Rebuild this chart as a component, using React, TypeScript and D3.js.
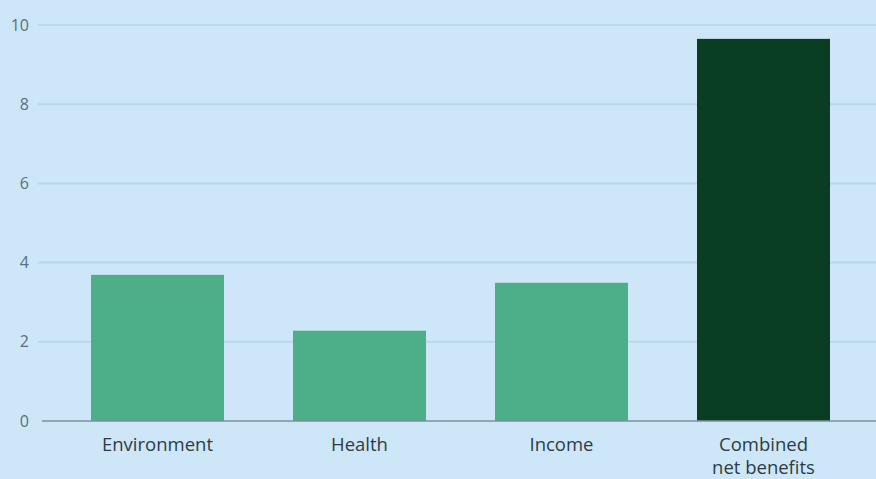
import React from "react";
import * as d3 from "d3";

const categories = ["Environment", "Health", "Income", "Combined net benefits"];
const values = [3.69, 2.28, 3.49, 9.65];
const yTicks = [0, 2, 4, 6, 8, 10];
const labelLines = [["Environment"], ["Health"], ["Income"], ["Combined", "net benefits"]];

const W = 876;
const H = 479;

export default function App() {
  const y = d3.scaleLinear().domain([0, 10]).range([421, 25]);
  const x = d3
    .scaleBand<string>()
    .domain(categories)
    .range([56.5, 864.5])
    .paddingInner(0.3416)
    .paddingOuter(0.1708);

  return (
    <svg
      width={W}
      height={H}
      style={{ position: "fixed", left: 0, top: 0, display: "block" }}
      fontFamily="'Open Sans', 'Noto Sans', sans-serif"
    >
      <rect x={0} y={0} width={W} height={H} fill="#cde7f8" />
      {yTicks
        .filter((t) => t !== 0)
        .map((t) => (
          <line
            key={"g" + t}
            x1={38}
            x2={W}
            y1={y(t)}
            y2={y(t)}
            stroke="#bad6eb"
            strokeWidth={2}
          />
        ))}
      {yTicks.map((t) => (
        <text
          key={"t" + t}
          x={29}
          y={y(t)}
          dy="0.35em"
          textAnchor="end"
          fontSize={16}
          fill="#5a6f7f"
        >
          {t}
        </text>
      ))}
      {categories.map((c, i) => (
        <rect
          key={c}
          x={x(c)}
          y={y(values[i])}
          width={x.bandwidth()}
          height={y(0) - y(values[i])}
          fill={i === 3 ? "#0a3e23" : "#4caf8a"}
        />
      ))}
      <line x1={42} x2={W} y1={y(0)} y2={y(0)} stroke="#7d909c" strokeWidth={1.5} />
      {categories.map((c, i) => (
        <text
          key={"l" + c}
          x={(x(c) as number) + x.bandwidth() / 2}
          y={451}
          textAnchor="middle"
          fontSize={18.5}
          fill="#2e3b45"
        >
          {labelLines[i].map((ln, j) => (
            <tspan key={j} x={(x(c) as number) + x.bandwidth() / 2} dy={j === 0 ? 0 : 23}>
              {ln}
            </tspan>
          ))}
        </text>
      ))}
    </svg>
  );
}
